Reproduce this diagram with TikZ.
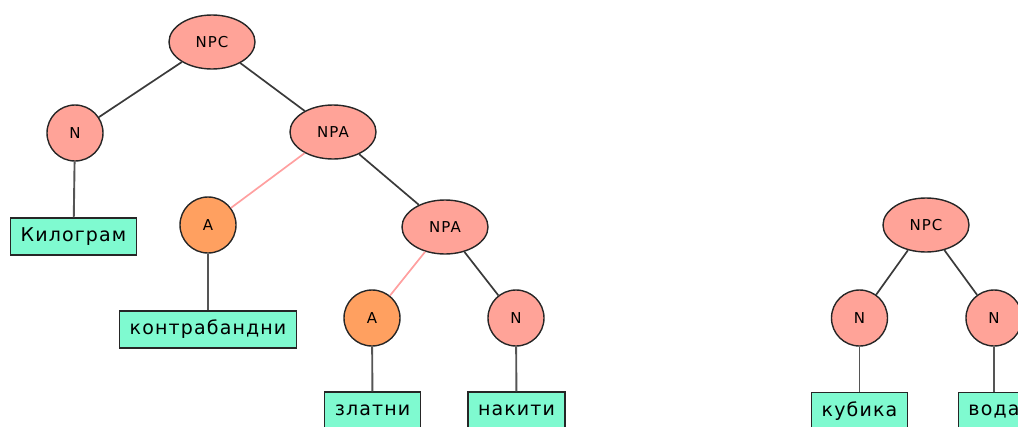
\documentclass[tikz,border=0pt]{standalone}
\usepackage{fontspec}
\usetikzlibrary{shapes.geometric}
\newfontfamily\catfont[LetterSpace=7]{DejaVu Sans}
\newfontfamily\wordfont[LetterSpace=6]{DejaVu Sans}
\definecolor{phrasefill}{HTML}{FFA398}
\definecolor{adjfill}{HTML}{FFA060}
\definecolor{wordfill}{HTML}{7FFAD0}
\definecolor{branch}{HTML}{3A3A3A}
\definecolor{leafline}{HTML}{555555}
\definecolor{adjline}{HTML}{FFA0A0}
\tikzset{
  phrase/.style={ellipse, draw=black!85, line width=1.4pt, fill=phrasefill,
    minimum width=86pt, minimum height=54pt, inner sep=0pt,
    font=\catfont\fontsize{15}{15}\selectfont},
  cat/.style={circle, draw=black!85, line width=1.4pt, fill=phrasefill,
    minimum size=56pt, inner sep=0pt, font=\catfont\fontsize{15}{15}\selectfont},
  adj/.style={cat, fill=adjfill},
  word/.style={rectangle, draw=black!85, line width=1.4pt, fill=wordfill,
    minimum height=37pt, inner xsep=10pt, inner ysep=0pt,
    font=\wordfont\fontsize{19}{19}\selectfont},
  edge/.style={draw=branch, line width=1.7pt},
  adjedge/.style={draw=adjline, line width=1.7pt},
  leafedge/.style={draw=leafline, line width=1.9pt}
}
\begin{document}
\begin{tikzpicture}[x=1pt, y=-1pt]
  \useasboundingbox (0,0) rectangle (1018,426);
  \clip (0,0) rectangle (1018,426);

  % first tree
  \node[phrase] (npc1) at (212,42) {NPC};
  \node[cat]    (n1)   at (75,133) {N};
  \node[phrase] (npa1) at (333,132) {NPA};
  \node[adj]    (a1)   at (208,225) {A};
  \node[phrase] (npa2) at (445,227) {NPA};
  \node[adj]    (a2)   at (372,318) {A};
  \node[cat]    (n2)   at (516,318) {N};
  \node[word]   (w1)   at (73.5,236.5) {Килограм};
  \node[word]   (w2)   at (208,329.5) {контрабандни};
  \node[word]   (w3)   at (372.5,410.5) {златни};
  \node[word]   (w4)   at (516.5,410.5) {накити};

  % second tree
  \node[phrase] (npc2) at (926,225) {NPC};
  \node[cat]    (n3)   at (859.5,318) {N};
  \node[cat]    (n4)   at (994,318) {N};
  \node[word]   (w5)   at (859.5,411) {кубика};
  \node[word]   (w6)   at (994,411) {вода};

  % connectors, clipped at the node borders
  \draw[edge] (npc1) -- (n1);
  \draw[edge] (npc1) -- (npa1);
  \draw[adjedge] (npa1) -- (a1);
  \draw[edge] (npa1) -- (npa2);
  \draw[adjedge] (npa2) -- (a2);
  \draw[edge] (npa2) -- (n2);
  \draw[leafedge] (n1) -- (w1);
  \draw[leafedge] (a1) -- (w2);
  \draw[leafedge] (a2) -- (w3);
  \draw[leafedge] (n2) -- (w4);
  \draw[edge] (npc2) -- (n3);
  \draw[edge] (npc2) -- (n4);
  \draw[leafedge] (n3) -- (w5);
  \draw[leafedge] (n4) -- (w6);
\end{tikzpicture}
\end{document}
